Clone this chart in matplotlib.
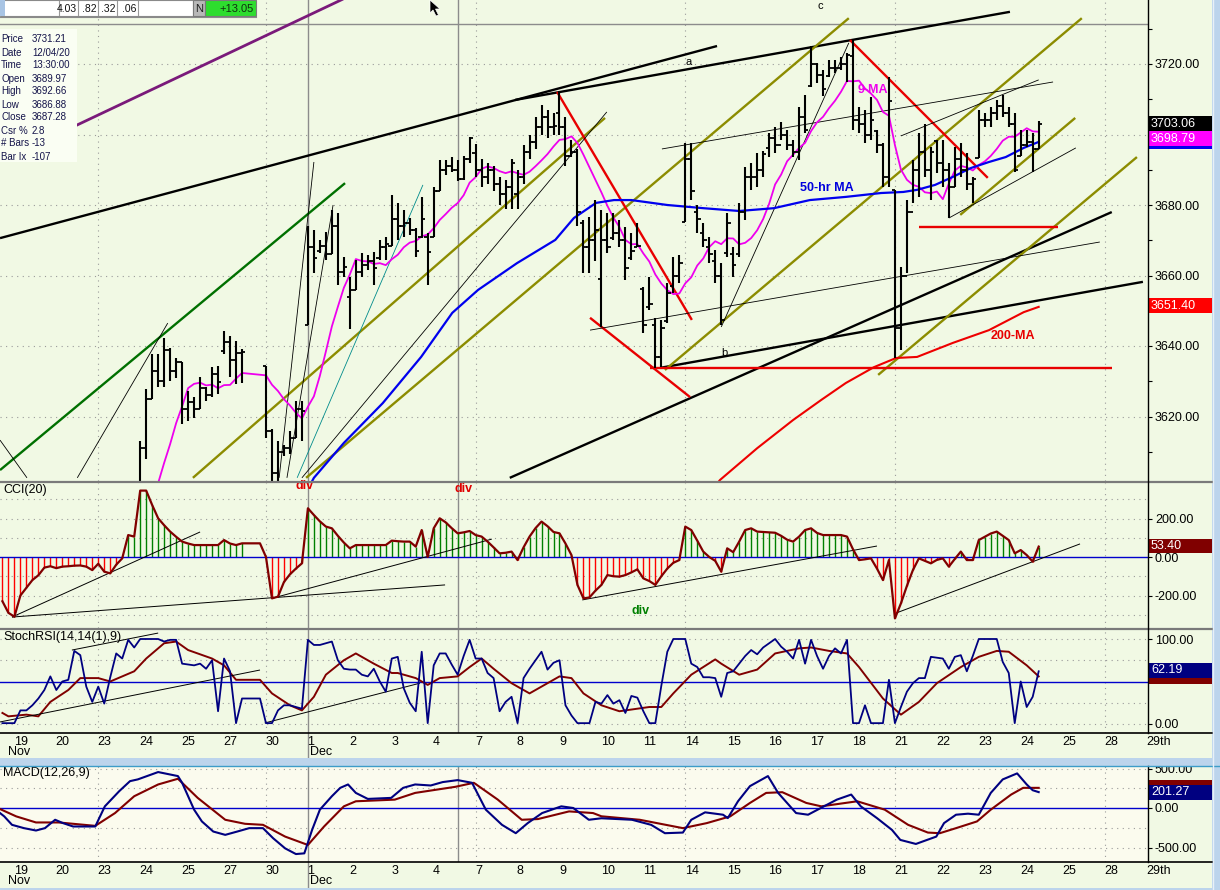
import numpy as np
import matplotlib
matplotlib.use("Agg")
import matplotlib.pyplot as plt
from matplotlib.patches import Rectangle, Polygon
from matplotlib.transforms import blended_transform_factory

plt.rcParams['font.family'] = ['Liberation Sans', 'DejaVu Sans']
nan = float('nan')

# ======================= DATA =======================
day_labels = ['19', '20', '23', '24', '25', '27', '30', '1', '2', '3', '4', '7', '8',
              '9', '10', '11', '14', '15', '16', '17', '18', '21', '22', '23', '24',
              '25', '28', '29th']
month_labels = ['Nov', 'Dec']
month_day_index = [0, 7]
week_start_days = [2, 6, 11, 16, 21, 26]
BARS_PER_DAY = 7
PRICE_FIRST_SLOT = 21      # Nov 24 09:30 bar
PRE_FIRST_SLOT = 14        # Nov 23 09:30 bar
IND_FIRST_SLOT = -2        # Nov 18 14:30 bar

nov23_close = [3562, 3578, 3588, 3585, 3582, 3579, 3577.6]

opens = [
    3594.5, 3611.0, 3625.0, 3633.0, 3630.0, 3639.0, 3633.0,   # Nov 24
    3635.5, 3622.0, 3624.0, 3622.0, 3628.0, 3626.0, 3632.0,   # Nov 25
    3638.6, 3641.0, 3636.0, 3638.0, nan, nan, nan,            # Nov 27
    3634.2, 3616.0, 3604.0, 3610.0, 3611.0, 3614.0, 3622.0,   # Nov 30
    3645.9, 3668.0, 3667.0, 3668.5, 3666.0, 3674.0, 3661.0,   # Dec 1
    3653.8, 3656.0, 3661.0, 3663.0, 3664.0, 3665.0, 3668.0,   # Dec 2
    3668.3, 3676.0, 3674.0, 3675.0, 3673.0, 3671.0, 3671.0,   # Dec 3
    3670.9, 3684.0, 3690.0, 3691.0, 3689.97, 3687.3, 3693.0,  # Dec 4
    3694.7, 3690.0, 3688.0, 3690.0, 3686.0, 3683.0, 3685.0,   # Dec 7
    3683.1, 3688.0, 3695.0, 3698.0, 3702.0, 3705.0, 3702.0,   # Dec 8
    3706.0, 3702.0, 3694.0, 3695.0, 3675.0, 3668.0, 3670.0,   # Dec 9
    3659.1, 3670.0, 3670.5, 3672.0, 3670.0, 3665.0, 3668.0,   # Dec 10
    3656.1, 3651.0, 3646.0, 3637.0, 3647.0, 3657.0, 3660.0,   # Dec 11
    3675.3, 3693.0, 3678.0, 3672.0, 3668.0, 3664.0, 3660.0,   # Dec 14
    3666.4, 3666.0, 3666.0, 3678.0, 3688.0, 3688.0, 3690.0,   # Dec 15
    3696.3, 3699.0, 3697.0, 3700.0, 3697.0, 3695.0, 3705.0,   # Dec 16
    3713.7, 3720.0, 3717.0, 3716.5, 3719.0, 3719.0, 3720.0,   # Dec 17
    3722.4, 3704.0, 3703.0, 3700.0, 3701.0, 3697.0, 3688.0,   # Dec 18
    3684.3, 3645.0, 3660.0, 3678.0, 3690.0, 3695.0, 3690.0,   # Dec 21
    3698.1, 3692.0, 3690.0, 3685.0, 3693.0, 3690.0, 3686.0,   # Dec 22
    3693.4, 3704.0, 3704.0, 3706.0, 3708.0, 3706.0, 3703.0,   # Dec 23
    3694.0, 3697.0, 3698.0, 3696.0,                           # Dec 24
]
highs = [
    3613.0, 3627.8, 3637.7, 3637.7, 3642.3, 3639.5, 3636.5,
    3635.5, 3627.2, 3625.5, 3631.2, 3628.5, 3634.0, 3634.3,
    3644.3, 3642.8, 3641.4, 3639.1, nan, nan, nan,
    3634.2, 3616.5, 3613.0, 3612.0, 3615.9, 3624.4, 3624.4,
    3674.0, 3672.9, 3670.1, 3672.4, 3678.5, 3677.7, 3665.3,
    3659.7, 3664.4, 3666.3, 3665.8, 3666.7, 3670.0, 3671.0,
    3682.7, 3680.6, 3678.6, 3676.3, 3673.5, 3682.4, 3672.0,
    3685.2, 3692.8, 3692.8, 3693.5, 3692.66, 3694.0, 3699.2,
    3697.4, 3693.0, 3692.0, 3691.0, 3688.0, 3687.0, 3693.0,
    3690.0, 3697.0, 3700.0, 3705.0, 3708.5, 3707.0, 3706.0,
    3712.4, 3705.0, 3698.4, 3696.0, 3675.7, 3676.6, 3681.4,
    3678.6, 3677.7, 3677.7, 3675.7, 3673.8, 3672.1, 3674.9,
    3656.7, 3659.6, 3648.0, 3647.4, 3657.9, 3665.2, 3665.8,
    3697.6, 3697.6, 3680.0, 3674.9, 3670.9, 3667.2, 3663.5,
    3677.7, 3668.1, 3680.6, 3690.8, 3691.9, 3694.8, 3695.3,
    3700.4, 3702.1, 3703.5, 3701.3, 3698.4, 3707.8, 3711.3,
    3725.1, 3720.3, 3718.3, 3721.1, 3721.1, 3722.0, 3723.1,
    3726.7, 3707.8, 3707.0, 3710.6, 3701.3, 3697.6, 3716.3,
    3684.3, 3662.4, 3681.4, 3692.8, 3700.4, 3702.9, 3696.5,
    3698.3, 3698.4, 3691.9, 3696.5, 3697.6, 3694.8, 3687.9,
    3707.0, 3706.1, 3707.8, 3709.8, 3711.2, 3707.8, 3706.1,
    3701.3, 3701.3, 3700.4, 3703.8,
]
lows = [
    3594.5, 3608.0, 3625.0, 3628.4, 3628.4, 3630.0, 3631.0,
    3617.8, 3618.7, 3619.6, 3622.0, 3624.4, 3625.5, 3626.4,
    3637.7, 3631.2, 3629.3, 3629.5, nan, nan, nan,
    3613.9, 3600.0, 3594.4, 3608.8, 3609.4, 3613.9, 3613.0,
    3645.9, 3660.6, 3666.3, 3664.4, 3666.0, 3657.3, 3659.7,
    3644.8, 3655.9, 3659.6, 3661.6, 3657.3, 3664.4, 3664.4,
    3668.3, 3670.0, 3671.0, 3671.5, 3665.3, 3670.6, 3657.2,
    3670.9, 3684.0, 3688.5, 3689.5, 3686.88, 3687.0, 3692.0,
    3688.0, 3685.0, 3686.0, 3684.0, 3680.0, 3679.0, 3678.9,
    3678.8, 3686.0, 3693.0, 3696.0, 3700.0, 3699.0, 3700.0,
    3700.0, 3691.0, 3693.6, 3674.0, 3660.7, 3660.7, 3664.0,
    3645.4, 3666.4, 3670.1, 3668.1, 3658.7, 3664.4, 3668.1,
    3643.7, 3650.2, 3633.8, 3634.0, 3646.5, 3655.0, 3657.9,
    3675.2, 3681.4, 3672.0, 3668.1, 3663.5, 3657.9, 3645.9,
    3665.2, 3659.6, 3665.2, 3675.7, 3684.3, 3685.1, 3688.0,
    3693.6, 3694.8, 3698.4, 3695.6, 3693.6, 3692.8, 3700.4,
    3713.5, 3714.6, 3710.9, 3716.3, 3717.4, 3718.3, 3714.9,
    3701.3, 3700.4, 3697.6, 3698.4, 3694.8, 3685.1, 3685.1,
    3636.5, 3638.9, 3660.7, 3680.6, 3682.3, 3687.9, 3681.4,
    3689.1, 3685.1, 3676.2, 3685.1, 3688.0, 3684.3, 3680.6,
    3693.4, 3702.1, 3702.1, 3704.1, 3705.0, 3702.1, 3689.3,
    3694.0, 3696.5, 3689.3, 3696.0,
]
closes = [
    3611.0, 3625.0, 3633.0, 3630.0, 3639.0, 3633.0, 3635.4,
    3622.0, 3624.0, 3622.0, 3628.0, 3626.0, 3632.0, 3629.7,
    3641.0, 3636.0, 3638.0, 3638.4, nan, nan, nan,
    3616.0, 3604.0, 3610.0, 3611.0, 3614.0, 3622.0, 3621.6,
    3668.0, 3665.0, 3668.5, 3666.0, 3674.0, 3661.0, 3662.5,
    3656.0, 3661.0, 3663.0, 3664.0, 3662.0, 3668.0, 3669.0,
    3676.0, 3674.0, 3675.0, 3673.0, 3667.0, 3676.0, 3666.7,
    3684.0, 3690.0, 3691.0, 3690.0, 3687.28, 3693.0, 3699.1,
    3690.0, 3688.0, 3690.0, 3686.0, 3683.0, 3685.0, 3692.0,
    3688.0, 3695.0, 3698.0, 3702.0, 3705.0, 3702.0, 3702.3,
    3702.0, 3694.0, 3695.0, 3678.0, 3668.0, 3670.0, 3672.8,
    3670.0, 3668.0, 3672.0, 3670.0, 3662.0, 3667.0, 3668.5,
    3646.0, 3652.0, 3637.0, 3645.0, 3655.0, 3660.0, 3663.5,
    3693.0, 3684.0, 3676.0, 3670.0, 3666.0, 3660.0, 3647.5,
    3675.0, 3663.0, 3678.0, 3688.0, 3688.0, 3690.0, 3694.6,
    3699.0, 3697.0, 3700.0, 3697.0, 3695.0, 3705.0, 3701.2,
    3720.0, 3717.0, 3713.0, 3719.0, 3719.0, 3720.0, 3722.5,
    3704.0, 3703.0, 3700.0, 3704.0, 3697.0, 3688.0, 3709.4,
    3645.0, 3660.0, 3678.0, 3690.0, 3695.0, 3690.0, 3694.9,
    3692.0, 3690.0, 3685.0, 3693.0, 3690.0, 3686.0, 3687.3,
    3704.0, 3704.0, 3706.0, 3708.0, 3706.0, 3703.0, 3690.0,
    3697.0, 3698.0, 3696.0, 3703.06,
]

# 50-hour and 200-hour moving averages (slot, price)
ma50_slot = [46, 50, 55, 61.5, 67.9, 73.1, 77.4, 83.9, 90.3, 93.4, 97.1, 100.1, 103, 109,
             115, 121, 126.8, 132.8, 138.8, 144.7, 148.4, 150.7, 153.7, 156.7, 159.7,
             162.7, 165.5, 168.5, 171]
ma50_val = [3590, 3602.6, 3612.5, 3623.8, 3636.9, 3649.4, 3655.9, 3663.5, 3670.1, 3676.3,
            3680.6, 3681.4, 3681.4, 3680.0, 3679.1, 3678.3, 3679.1, 3681.4, 3682.3, 3683.4,
            3683.7, 3684.3, 3685.7, 3688.0, 3690.5, 3692.2, 3693.6, 3696.2, 3697.9]
ma200_slot = [114, 117.8, 124, 130, 134.7, 138.8, 143.5, 147.2, 150.7, 156.7, 162.7, 168.5, 171]
ma200_val = [3594, 3602.0, 3611.0, 3619.0, 3624.7, 3629.5, 3634.0, 3636.6, 3636.9, 3640.9,
             3644.5, 3649.6, 3651.1]

# CCI(20), one value per slot from IND_FIRST_SLOT
cci = [
    -230, -290,
    -310, -200, -160, -120, -95, -55, -48,
    -58, -50, -48, -45, -44, -50, -68,
    -35, -76, -85, -40, -7, 114, 106,
    345, 345, 270, 201, 165, 132, 105,
    80, 70, 62, 62, 62, 62, 62,
    88, 70, 62, 71, 71, 71, 71,
    0, -215, -206, -130, -90, -60, -33,
    253, 218, 185, 158, 149, 110, 75,
    45, 62, 62, 62, 62, 62, 62,
    85, 82, 80, 80, 54, 140, 0,
    149, 201, 180, 150, 123, 128, 135,
    114, 106, 80, 50, 19, 22, 28,
    -16, 50, 106, 150, 184, 160, 130,
    123, 70, 10, -145, -215, -210, -175,
    -145, -94, -100, -102, -94, -80, -64,
    -111, -125, -145, -100, -60, -30, -16,
    158, 140, 85, 28, 0, -20, -76,
    45, 25, 80, 140, 149, 132, 130,
    128, 126, 110, 90, 80, 106, 140,
    149, 125, 114, 114, 114, 114, 106,
    40, -16, -12, -7, -60, -120, -16,
    -319, -241, -150, -68, -7, -20, -33,
    -15, -7, -50, -10, 28, -16, -16,
    88, 105, 122, 132, 110, 88, 19,
    36, 10, -24, 54,
]
# StochRSI %K, one value per slot
stoch_k = [
    1, 1,
    1, 16, 16, 22, 30, 40, 56,
    40, 50, 52, 86, 81, 44, 26,
    44, 24, 55, 83, 77, 99, 90,
    100, 100, 100, 100, 97, 99, 99,
    71, 70, 69, 71, 65, 75, 15,
    77, 62, 1, 30, 30, 30, 30,
    1, 1, 16, 22, 22, 20, 18,
    99, 93, 93, 95, 97, 75, 65,
    64, 64, 58, 56, 65, 50, 38,
    77, 79, 42, 25, 15, 85, 1,
    69, 83, 83, 70, 58, 80, 99,
    77, 77, 60, 54, 15, 26, 32,
    1, 54, 65, 75, 85, 64, 72,
    75, 22, 10, 1, 1, 1, 26,
    24, 34, 24, 28, 13, 33, 31,
    15, 1, 1, 45, 85, 100, 100,
    100, 71, 67, 55, 55, 54, 32,
    60, 62, 71, 80, 87, 82, 90,
    95, 100, 91, 85, 77, 99, 71,
    99, 80, 65, 80, 89, 83, 99,
    1, 1, 22, 1, 1, 1, 52,
    1, 20, 38, 48, 54, 54, 79,
    78, 77, 65, 79, 81, 62, 80,
    100, 100, 100, 100, 73, 60, 1,
    50, 20, 32, 62,
]
# StochRSI signal line, readings (slot, value)
stoch_d_slot = [-2, -1, 2, 4, 6, 9, 11, 14, 16, 18, 20, 22, 25, 27, 29, 33, 35, 37, 41, 43,
                46, 48, 50, 52, 55, 57, 60, 63, 64, 67, 69, 71, 74, 76, 78, 80, 83, 86, 88, 91,
                93, 95, 98, 101, 106, 108, 110, 113, 117, 118, 121, 124, 127, 131, 133, 136,
                139, 141, 145, 148, 151, 154, 158, 161, 164, 166, 169, 171]
stoch_d_val = [13, 9, 11, 9, 26, 40, 54, 54, 50, 56, 62, 77, 95, 97, 87, 77, 69, 52, 52, 36,
               22, 16, 32, 58, 75, 83, 71, 60, 60, 54, 46, 54, 56, 67, 77, 65, 48, 36, 44, 56,
               54, 36, 22, 15, 20, 20, 36, 58, 76, 71, 58, 64, 83, 89, 90, 86, 83, 67, 30, 11,
               26, 48, 67, 79, 86, 85, 69, 56]
# MACD(12,26,9) readings (slot, value)
macd_slot = [-2.4, -1.7, -0.4, 1.6, 3.6, 5.1, 6.8, 8.1, 9.8, 13.5, 15.1, 17.5, 19.3, 20.6, 24,
             27.3, 28, 30, 31.3, 33.2, 35.2, 37.2, 39.2, 41.5, 43.2, 45.2, 47, 48.4, 49.7, 51,
             53, 54.4, 55.7, 57, 59, 62.9, 64.9, 66.9, 69.5, 71.5, 74, 76.4, 78.7, 81.4, 83.7,
             85.7, 88.1, 91.3, 93.3, 95.9, 98, 103.1, 106.3, 108.6, 111.6, 113, 115.3, 118.3,
             119.1, 120.8, 122.8, 125.8, 127.5, 130.5, 132.5, 135.7, 137.3, 139.7, 141.3, 144,
             146.5, 147.9, 150.5, 153.9, 155.2, 157.2, 159.2, 161, 163, 165, 167.4, 169, 170,
             171]
macd_val = [-64, -106, -213, -255, -285, -255, -149, -191, -234, -234, 21, 213, 340, 362, 455,
            404, 319, -21, -170, -298, -340, -298, -255, -255, -383, -511, -583, -574, -277,
            -21, 149, 255, 298, 191, 115, 128, 255, 298, 285, 328, 353, 319, -21, -213, -319,
            -191, -64, 21, 0, -149, -130, -149, -213, -319, -311, -149, -55, -85, -128, 85,
            277, 404, 191, -64, -85, 43, 106, 170, 21, -128, -277, -404, -455, -362, -191,
            -85, -72, -85, 191, 362, 438, 298, 225, 201]
signal_slot = [-2.4, 0.3, 3.6, 7.4, 13.5, 16.8, 20, 24, 27.3, 30.6, 35.2, 38.5, 41.5, 45.2,
               49, 51.7, 55, 57, 63.5, 66.9, 73.6, 76.7, 80.7, 84.7, 87.4, 92.6, 96.6, 98,
               104.4, 111.6, 115.6, 119.5, 122.8, 125.5, 128.2, 132.2, 134.7, 140.7, 145.3,
               149.2, 152.5, 154.5, 157.2, 160.7, 163, 166.4, 168.4, 171]
signal_val = [-13, -106, -183, -183, -226, -64, 149, 298, 370, 128, -149, -200, -213, -362,
              -468, -234, 21, 85, 106, 191, 268, 319, 106, -149, -140, -43, -64, -105, -149,
              -255, -191, -106, 64, 191, 200, 64, 21, 85, -21, -213, -311, -319, -255, -170,
              -21, 170, 255, 255]

# Drawn trend lines (slot1, value1, slot2, value2)
purple_lines = [(10.1, 3702.4, 64.4, 3746.1)]
black_thick_lines = [(-2.4, 3670.6, 117.3, 3725.1), (83.6, 3709.8, 166.2, 3734.8),
                     (82.7, 3602.6, 183.2, 3678.0), (107.8, 3633.8, 188.4, 3658.2)]
green_lines = [(-2.4, 3604.8, 55.2, 3686.2)]
olive_lines = [(29.8, 3602.6, 98.6, 3704.7), (48.7, 3602.6, 139.3, 3733.0),
               (108.6, 3633.2, 178.2, 3733.0), (157.9, 3677.2, 177.1, 3704.7),
               (144.2, 3631.8, 187.4, 3693.6)]
red_lines = [(90.6, 3712.1, 113.1, 3647.4), (96.1, 3648.0, 112.8, 3625.5),
             (106.1, 3633.8, 183.2, 3633.8), (139.5, 3726.8, 162.5, 3687.7),
             (151.0, 3673.8, 174.2, 3673.8)]
thin_lines = [(10.5, 3602.6, 25.6, 3646.5), (-2.4, 3613.3, 2.1, 3602.6),
              (44.2, 3602.6, 50.0, 3692.2), (45.5, 3602.6, 53.2, 3680.0),
              (48.0, 3602.6, 98.9, 3706.4), (96.1, 3644.5, 181.2, 3669.5),
              (108.1, 3695.9, 173.4, 3714.9), (148.0, 3699.6, 171.0, 3715.5),
              (118.0, 3645.4, 139.3, 3726.0), (156.0, 3676.3, 177.2, 3696.2)]
teal_lines = [(47.2, 3602.6, 68.2, 3685.7)]
cci_lines = [(-0.4, -312, 31, 130), (-0.4, -312, 71.9, -145), (43.2, -213, 79.7, 93),
             (94.8, -223, 144, 57), (147.2, -291, 177.9, 68)]
stoch_lines = [(-2.4, 2.4, 41, 63.5), (9.6, 87, 24, 107), (41.8, 1.2, 67.7, 48)]

cursor_slot, cursor_price = 74, 3731.21
info_rows = [('Price', '3731.21'), ('Date', '12/04/20'), ('Time', '13:30:00'),
             ('Open', '3689.97'), ('High', '3692.66'), ('Low', '3686.88'),
             ('Close', '3687.28'), ('Csr %', '2.8'), ('# Bars', '-13'), ('Bar Ix', '-107')]
toolbar_cells = ['4.03', '.82', '.32', '.06']
change_text = '+13.05'

# ======================= FIGURE =======================
W, H = 1220, 890
BG = '#F1F9E4'
MACD_BG = '#FBFBEE'
fig = plt.figure(figsize=(W / 100, H / 100), dpi=100)
fig.patch.set_facecolor(BG)
XMIN, XMAX = (0 - 14.4) / 5.99, (1148 - 14.4) / 5.99
AX_RIGHT = 1148


def add_ax(y0, y1, fc=BG, x0=0, x1=AX_RIGHT):
    ax = fig.add_axes([x0 / W, 1 - y1 / H, (x1 - x0) / W, (y1 - y0) / H])
    ax.set_facecolor(fc)
    for sp in ax.spines.values():
        sp.set_visible(False)
    ax.set_xlim(XMIN, XMAX)
    ax.tick_params(axis='x', bottom=False, labelbottom=False)
    return ax


def right_axis(ax, ticks, hidden=(), minor=None):
    ax.yaxis.tick_right()
    ax.set_yticks(ticks)
    ax.set_yticklabels(['' if t in hidden else '{:.2f}'.format(t) for t in ticks])
    if minor is not None:
        ax.set_yticks(minor, minor=True)
    ax.tick_params(axis='y', which='major', length=3, width=0.8, pad=2, labelsize=9,
                   colors='black', direction='out')
    ax.tick_params(axis='y', which='minor', length=3, width=0.8, colors='black',
                   direction='out')


_box_z = [20]


def value_box(ax, val, text, fc, ppu, h_px=15, w_px=66):
    tr = blended_transform_factory(ax.transAxes, ax.transData)
    h = h_px / ppu
    z = _box_z[0]
    _box_z[0] += 2
    ax.add_patch(Rectangle((1.0, val - h / 2), w_px / AX_RIGHT, h, transform=tr, fc=fc,
                           ec='none', clip_on=False, zorder=z))
    if text:
        ax.text(1.0 + 3 / AX_RIGHT, val, text, transform=tr, color='white', fontsize=9,
                va='center', ha='left', clip_on=False, zorder=z + 1)


def grid(ax, levels):
    for lv in levels:
        ax.axhline(lv, color='#9A9A9A', lw=0.8, ls=(0, (1, 4)), zorder=0.5)
    for d in week_start_days:
        ax.axvline(d * BARS_PER_DAY, color='#9A9A9A', lw=0.8, ls=(0, (1, 4)), zorder=0.5)


def markers(ax):
    ax.axvline(month_day_index[1] * BARS_PER_DAY, color='#8C8C8C', lw=1.0, zorder=0.6)
    ax.axvline(cursor_slot, color='#8C8C8C', lw=1.0, zorder=0.6)


def draw_lines(ax, lines, color, lw, z=3):
    for (a, b, c, d) in lines:
        ax.plot([a, c], [b, d], color=color, lw=lw, solid_capstyle='butt', zorder=z)


ind_slots = np.arange(IND_FIRST_SLOT, IND_FIRST_SLOT + len(cci))
price_slots = np.arange(PRICE_FIRST_SLOT, PRICE_FIRST_SLOT + len(closes))
O = np.array(opens, float)
Hh = np.array(highs, float)
L = np.array(lows, float)
C = np.array(closes, float)

# ---------------- price panel ----------------
PPU = 3.525
def py(y):
    return 3720 - (y - 64) / PPU

axp = add_ax(0, 481)
axp.set_ylim(py(481), py(0))
grid(axp, [3620, 3640, 3660, 3680, 3700, 3720])
markers(axp)
axp.axhline(cursor_price, color='#8C8C8C', lw=1.0, zorder=0.6)

# 9-period moving average of closes
all_close = np.concatenate([np.array(nov23_close, float), C])
all_slot = np.concatenate([np.arange(PRE_FIRST_SLOT, PRE_FIRST_SLOT + len(nov23_close)),
                           price_slots])
ok = ~np.isnan(all_close)
cv, sv = all_close[ok], all_slot[ok]
ma9 = np.convolve(cv, np.ones(9) / 9, mode='valid')
axp.plot(sv[8:], ma9, color='#EE00EE', lw=1.3, zorder=4)
axp.plot(ma50_slot, ma50_val, color='#0000EE', lw=1.6, zorder=4)
axp.plot(ma200_slot, ma200_val, color='#EE0000', lw=1.5, zorder=4)

draw_lines(axp, purple_lines, '#7A1A7A', 2.0)
draw_lines(axp, black_thick_lines, 'black', 1.7)
draw_lines(axp, green_lines, '#007000', 1.7)
draw_lines(axp, olive_lines, '#8C8C00', 1.7)
draw_lines(axp, red_lines, '#E80000', 1.7)
draw_lines(axp, thin_lines, 'black', 0.6)
draw_lines(axp, teal_lines, '#008B8B', 0.6)

v = ~np.isnan(C)
axp.vlines(price_slots[v], L[v], Hh[v], color='black', lw=1.5, zorder=5)
axp.hlines(O[v], price_slots[v] - 0.55, price_slots[v], color='black', lw=1.3, zorder=5)
axp.hlines(C[v], price_slots[v], price_slots[v] + 0.55, color='black', lw=1.3, zorder=5)

axp.text(112.5, 3720.6, 'a', fontsize=8, ha='center', va='center', zorder=6)
axp.text(118.5, 3638.0, 'b', fontsize=8, ha='center', va='center', zorder=6)
axp.text(134.5, 3736.5, 'c', fontsize=8, ha='center', va='center', zorder=6)
axp.text(140.8, 3712.6, '9-MA', fontsize=9, color='#EE00EE', weight='bold', va='center', zorder=6)
axp.text(131.2, 3684.8, '50-hr MA', fontsize=9, color='#0000DD', weight='bold', va='center', zorder=6)
axp.text(163.0, 3642.8, '200-MA', fontsize=9, color='#E80000', weight='bold', va='center', zorder=6)

right_axis(axp, [3620, 3640, 3660, 3680, 3700, 3720], hidden=(3700,),
           minor=[3610, 3630, 3650, 3670, 3690, 3710, 3730])
value_box(axp, 3651.40, '3651.40', '#FF0000', PPU)
value_box(axp, 3703.06, '3703.06', '#000000', PPU)
value_box(axp, 3697.90, None, '#0000EE', PPU)
value_box(axp, 3698.79, '3698.79', '#FF00FF', PPU)

# ---------------- CCI panel ----------------
CPU = 0.1925
def cy(y):
    return (557 - y) / CPU

axc = add_ax(483, 628)
axc.set_ylim(cy(628), cy(483))
grid(axc, [-300, -200, -100, 100, 200, 300])
markers(axc)
cc = np.array(cci, float)
has_bar = np.ones(len(cc), bool)
for s in range(len(cc)):
    slot = ind_slots[s]
    if slot >= PRICE_FIRST_SLOT:
        has_bar[s] = not np.isnan(C[slot - PRICE_FIRST_SLOT])
pos = has_bar & (cc >= 0)
neg = has_bar & (cc < 0)
axc.vlines(ind_slots[pos], 0, cc[pos], color='#008000', lw=1.0, zorder=2)
axc.vlines(ind_slots[neg], 0, cc[neg], color='#FF0000', lw=1.0, zorder=2)
axc.axhline(0, color='#0000CC', lw=1.0, zorder=2.5)
axc.plot(ind_slots, cc, color='#800000', lw=1.6, zorder=4)
draw_lines(axc, cci_lines, 'black', 0.7)
axc.text(IND_FIRST_SLOT + 0.1, cy(490), 'CCI(20)', fontsize=9, va='center', ha='left')
axc.text(47.0, cy(486), 'div', fontsize=9, color='#E00000', weight='bold', va='center')
axc.text(73.5, cy(489), 'div', fontsize=9, color='#E00000', weight='bold', va='center')
axc.text(103.0, cy(611), 'div', fontsize=9, color='#008000', weight='bold', va='center')
right_axis(axc, [-200, 0, 200])
value_box(axc, 57.0, '53.40', '#800000', CPU, h_px=14)

# ---------------- StochRSI panel ----------------
SPU = 0.85
def sy(y):
    return (724 - y) / SPU

axs = add_ax(630, 733)
axs.set_ylim(sy(733), sy(630))
grid(axs, [0, 25, 75, 100])
markers(axs)
axs.axhline(50, color='#0000CC', lw=1.0, zorder=2)
axs.plot(stoch_d_slot, stoch_d_val, color='#800000', lw=1.4, zorder=3)
axs.plot(ind_slots, stoch_k, color='#000080', lw=1.3, zorder=4)
draw_lines(axs, stoch_lines, 'black', 0.7)
axs.text(IND_FIRST_SLOT + 0.1, sy(637), 'StochRSI(14,14(1),9)', fontsize=9, va='center', ha='left')
right_axis(axs, [0, 50, 100], hidden=(50,))
value_box(axs, 55.9, None, '#800000', SPU)
value_box(axs, 63.5, '62.19', '#000080', SPU)

# ---------------- MACD panel ----------------
MPU = 0.079
def my(y):
    return (808 - y) / MPU

axm = add_ax(766, 862, fc=MACD_BG)
axm.set_ylim(my(862), my(766))
grid(axm, [-500, -250, 250, 500])
markers(axm)
axm.axhline(0, color='#0000CC', lw=1.0, zorder=2)
axm.plot(signal_slot, signal_val, color='#800000', lw=1.5, zorder=3)
axm.plot(macd_slot, macd_val, color='#000080', lw=1.5, zorder=4)
axm.text(IND_FIRST_SLOT + 0.1, my(773), 'MACD(12,26,9)', fontsize=9, va='center', ha='left')
right_axis(axm, [-500, 0, 500])
value_box(axm, 259, None, '#800000', MPU)
value_box(axm, 201.27, '201.27', '#000080', MPU)

# ---------------- date strips ----------------
for (y0, y1) in [(733, 758), (862, 888)]:
    axx = add_ax(y0, y1)
    axx.set_ylim(1, 0)
    axx.set_yticks([])
    axx.axvline(month_day_index[1] * BARS_PER_DAY, ymin=0.05, color='#8C8C8C', lw=1.0)
    for i, lab in enumerate(day_labels):
        axx.text(i * BARS_PER_DAY - 0.1, 0.35, lab, fontsize=9, ha='left', va='center')
    for j, m in enumerate(month_labels):
        xm = month_day_index[j] * BARS_PER_DAY + (-1.0 if j == 0 else 0.3)
        axx.text(xm, 0.75, m, fontsize=9, ha='left', va='center')

# ---------------- overlay: frame, toolbar, info box ----------------
ov = fig.add_axes([0, 0, 1, 1])
ov.set_xlim(0, W)
ov.set_ylim(H, 0)
ov.axis('off')
ov.patch.set_alpha(0)

ov.plot([0, 1212], [481.5, 481.5], color='#7A7A7A', lw=1.6)
ov.plot([0, 1212], [629, 629], color='#7A7A7A', lw=1.6)
ov.plot([0, 1212], [733, 733], color='black', lw=1.2)
ov.plot([0, 1212], [862, 862], color='black', lw=1.2)
ov.plot([AX_RIGHT, AX_RIGHT], [0, 733], color='black', lw=1.0)
ov.plot([AX_RIGHT, AX_RIGHT], [766, 862], color='black', lw=1.0)
ov.add_patch(Rectangle((0, 758), W, 8, fc='#BCD4EC', ec='none'))
ov.plot([0, W], [765.5, 765.5], color='#3C9CC8', lw=1.0)
ov.add_patch(Rectangle((1212, 0), 8, H, fc='#BCD4EC', ec='none'))
ov.plot([1213, 1213], [0, H], color='#E8F0F8', lw=1.0)
ov.add_patch(Rectangle((0, 888), W, 2, fc='#BCD4EC', ec='none'))

# toolbar
ov.add_patch(Rectangle((0, 0), 193, 16, fc='white', ec='#8A8A8A', lw=0.8))
ov.add_patch(Rectangle((0, 0), 5, 16, fc='#A8C4E4', ec='none'))
cell_edges = [59, 78, 98, 117, 138]
for xe in cell_edges:
    ov.plot([xe, xe], [1, 15], color='#9A9A9A', lw=0.8)
for k, t in enumerate(toolbar_cells):
    x_left, x_right = cell_edges[k], cell_edges[k + 1]
    clip = Rectangle((x_left + 0.5, 0), x_right - x_left - 1, 16, transform=ov.transData)
    txt = ov.text(x_right - 1.5, 8.5, t, fontsize=7.5, ha='right', va='center',
                  color='#101010')
    txt.set_clip_path(clip)
ov.add_patch(Rectangle((193, 0), 12, 16, fc='#B8B8B8', ec='#7A7A7A', lw=0.8))
ov.text(199, 8.5, 'N', fontsize=8, ha='center', va='center', color='#202020')
ov.add_patch(Rectangle((205, 0), 51, 16, fc='#2EDD2E', ec='#7A7A7A', lw=0.8))
ov.text(254, 8.5, change_text, fontsize=8, ha='right', va='center', color='#103010')
ov.plot([0, 256], [16.5, 16.5], color='#8A8A8A', lw=0.8)

# mouse pointer
ov.add_patch(Polygon([(430, 0), (430, 13), (433, 10), (436, 16), (438.5, 15),
                      (435.5, 9), (440, 9)], closed=True, fc='black', ec='white', lw=0.5))

# info box
ov.add_patch(Rectangle((0, 29), 77, 133, fc='#FAFEF3', ec='none'))
for k, (lab, val) in enumerate(info_rows):
    yy = 39.5 + 13 * k
    ov.text(1, yy, lab, fontsize=7, ha='left', va='center', color='#14144A')
    ov.text(32, yy, val, fontsize=7, ha='left', va='center', color='#14144A')

fig.savefig('out.png', dpi=100, facecolor=BG)
